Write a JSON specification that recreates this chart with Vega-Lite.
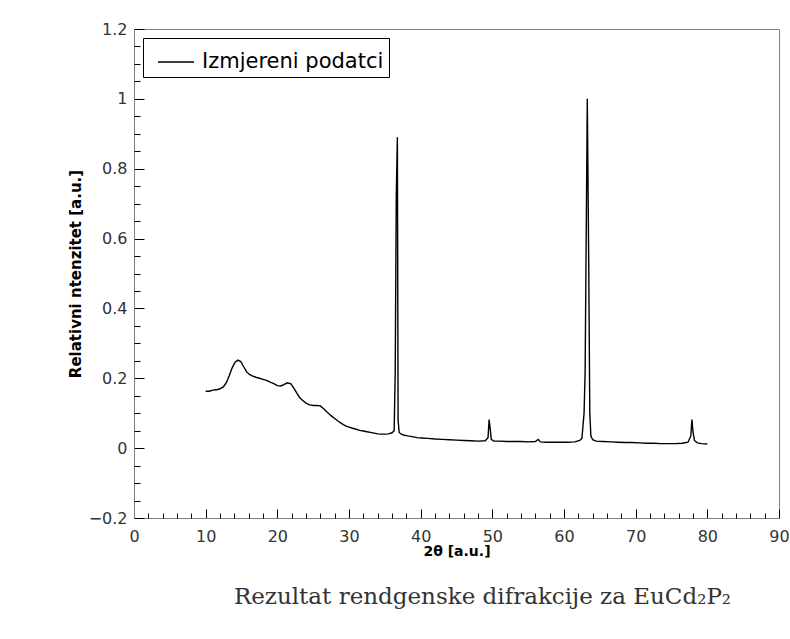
{
  "$schema": "https://vega.github.io/schema/vega-lite/v6.json",
  "width": 645,
  "height": 489,
  "autosize": {"type": "none"},
  "padding": {"left": 134, "top": 29, "right": 11, "bottom": 121},
  "background": "white",
  "config": {
    "view": {"stroke": "#808080", "strokeWidth": 1},
    "font": "DejaVu Sans"
  },
  "title": {
    "text": "Rezultat rendgenske difrakcije za EuCd₂P₂",
    "orient": "bottom",
    "anchor": "middle",
    "font": "DejaVu Serif",
    "fontSize": 23,
    "fontWeight": "normal",
    "color": "#333333",
    "offset": 28,
    "dx": 26
  },
  "data": {
    "values": [
      {"x": 10.0, "y": 0.163, "s": "Izmjereni podatci"},
      {"x": 10.5, "y": 0.163, "s": "Izmjereni podatci"},
      {"x": 11.0, "y": 0.166, "s": "Izmjereni podatci"},
      {"x": 11.5, "y": 0.167, "s": "Izmjereni podatci"},
      {"x": 12.0, "y": 0.170, "s": "Izmjereni podatci"},
      {"x": 12.5, "y": 0.176, "s": "Izmjereni podatci"},
      {"x": 12.9, "y": 0.188, "s": "Izmjereni podatci"},
      {"x": 13.3, "y": 0.208, "s": "Izmjereni podatci"},
      {"x": 13.7, "y": 0.230, "s": "Izmjereni podatci"},
      {"x": 14.1, "y": 0.246, "s": "Izmjereni podatci"},
      {"x": 14.5, "y": 0.252, "s": "Izmjereni podatci"},
      {"x": 14.9, "y": 0.248, "s": "Izmjereni podatci"},
      {"x": 15.3, "y": 0.233, "s": "Izmjereni podatci"},
      {"x": 15.7, "y": 0.219, "s": "Izmjereni podatci"},
      {"x": 16.1, "y": 0.211, "s": "Izmjereni podatci"},
      {"x": 16.5, "y": 0.207, "s": "Izmjereni podatci"},
      {"x": 17.0, "y": 0.203, "s": "Izmjereni podatci"},
      {"x": 17.5, "y": 0.200, "s": "Izmjereni podatci"},
      {"x": 18.0, "y": 0.197, "s": "Izmjereni podatci"},
      {"x": 18.5, "y": 0.194, "s": "Izmjereni podatci"},
      {"x": 19.0, "y": 0.189, "s": "Izmjereni podatci"},
      {"x": 19.5, "y": 0.185, "s": "Izmjereni podatci"},
      {"x": 20.0, "y": 0.179, "s": "Izmjereni podatci"},
      {"x": 20.5, "y": 0.178, "s": "Izmjereni podatci"},
      {"x": 20.9, "y": 0.182, "s": "Izmjereni podatci"},
      {"x": 21.4, "y": 0.187, "s": "Izmjereni podatci"},
      {"x": 21.9, "y": 0.184, "s": "Izmjereni podatci"},
      {"x": 22.3, "y": 0.172, "s": "Izmjereni podatci"},
      {"x": 22.7, "y": 0.158, "s": "Izmjereni podatci"},
      {"x": 23.1, "y": 0.145, "s": "Izmjereni podatci"},
      {"x": 23.5, "y": 0.137, "s": "Izmjereni podatci"},
      {"x": 24.0, "y": 0.129, "s": "Izmjereni podatci"},
      {"x": 24.5, "y": 0.124, "s": "Izmjereni podatci"},
      {"x": 25.0, "y": 0.122, "s": "Izmjereni podatci"},
      {"x": 25.5, "y": 0.122, "s": "Izmjereni podatci"},
      {"x": 26.0, "y": 0.121, "s": "Izmjereni podatci"},
      {"x": 26.5, "y": 0.112, "s": "Izmjereni podatci"},
      {"x": 27.0, "y": 0.102, "s": "Izmjereni podatci"},
      {"x": 27.5, "y": 0.093, "s": "Izmjereni podatci"},
      {"x": 28.0, "y": 0.085, "s": "Izmjereni podatci"},
      {"x": 28.5, "y": 0.077, "s": "Izmjereni podatci"},
      {"x": 29.0, "y": 0.070, "s": "Izmjereni podatci"},
      {"x": 29.5, "y": 0.064, "s": "Izmjereni podatci"},
      {"x": 30.0, "y": 0.060, "s": "Izmjereni podatci"},
      {"x": 30.5, "y": 0.057, "s": "Izmjereni podatci"},
      {"x": 31.0, "y": 0.054, "s": "Izmjereni podatci"},
      {"x": 31.5, "y": 0.051, "s": "Izmjereni podatci"},
      {"x": 32.0, "y": 0.049, "s": "Izmjereni podatci"},
      {"x": 32.5, "y": 0.047, "s": "Izmjereni podatci"},
      {"x": 33.0, "y": 0.045, "s": "Izmjereni podatci"},
      {"x": 33.5, "y": 0.043, "s": "Izmjereni podatci"},
      {"x": 34.0, "y": 0.041, "s": "Izmjereni podatci"},
      {"x": 34.5, "y": 0.040, "s": "Izmjereni podatci"},
      {"x": 35.0, "y": 0.040, "s": "Izmjereni podatci"},
      {"x": 35.5, "y": 0.041, "s": "Izmjereni podatci"},
      {"x": 36.0, "y": 0.044, "s": "Izmjereni podatci"},
      {"x": 36.3, "y": 0.050, "s": "Izmjereni podatci"},
      {"x": 36.45, "y": 0.22, "s": "Izmjereni podatci"},
      {"x": 36.6, "y": 0.73, "s": "Izmjereni podatci"},
      {"x": 36.75, "y": 0.89, "s": "Izmjereni podatci"},
      {"x": 36.85, "y": 0.08, "s": "Izmjereni podatci"},
      {"x": 37.0, "y": 0.045, "s": "Izmjereni podatci"},
      {"x": 37.3, "y": 0.040, "s": "Izmjereni podatci"},
      {"x": 37.7, "y": 0.037, "s": "Izmjereni podatci"},
      {"x": 38.2, "y": 0.035, "s": "Izmjereni podatci"},
      {"x": 38.8, "y": 0.033, "s": "Izmjereni podatci"},
      {"x": 39.5, "y": 0.030, "s": "Izmjereni podatci"},
      {"x": 40.2, "y": 0.029, "s": "Izmjereni podatci"},
      {"x": 41.0, "y": 0.028, "s": "Izmjereni podatci"},
      {"x": 42.0, "y": 0.026, "s": "Izmjereni podatci"},
      {"x": 43.0, "y": 0.025, "s": "Izmjereni podatci"},
      {"x": 44.0, "y": 0.024, "s": "Izmjereni podatci"},
      {"x": 45.0, "y": 0.023, "s": "Izmjereni podatci"},
      {"x": 46.0, "y": 0.022, "s": "Izmjereni podatci"},
      {"x": 47.0, "y": 0.021, "s": "Izmjereni podatci"},
      {"x": 48.0, "y": 0.020, "s": "Izmjereni podatci"},
      {"x": 49.0, "y": 0.021, "s": "Izmjereni podatci"},
      {"x": 49.4, "y": 0.030, "s": "Izmjereni podatci"},
      {"x": 49.55, "y": 0.082, "s": "Izmjereni podatci"},
      {"x": 49.7, "y": 0.056, "s": "Izmjereni podatci"},
      {"x": 49.85, "y": 0.025, "s": "Izmjereni podatci"},
      {"x": 50.2, "y": 0.020, "s": "Izmjereni podatci"},
      {"x": 51.0, "y": 0.020, "s": "Izmjereni podatci"},
      {"x": 52.0, "y": 0.019, "s": "Izmjereni podatci"},
      {"x": 53.0, "y": 0.019, "s": "Izmjereni podatci"},
      {"x": 54.0, "y": 0.019, "s": "Izmjereni podatci"},
      {"x": 55.0, "y": 0.018, "s": "Izmjereni podatci"},
      {"x": 56.0, "y": 0.019, "s": "Izmjereni podatci"},
      {"x": 56.4, "y": 0.025, "s": "Izmjereni podatci"},
      {"x": 56.7, "y": 0.018, "s": "Izmjereni podatci"},
      {"x": 57.5, "y": 0.017, "s": "Izmjereni podatci"},
      {"x": 58.5, "y": 0.017, "s": "Izmjereni podatci"},
      {"x": 59.5, "y": 0.017, "s": "Izmjereni podatci"},
      {"x": 60.5, "y": 0.017, "s": "Izmjereni podatci"},
      {"x": 61.5, "y": 0.018, "s": "Izmjereni podatci"},
      {"x": 62.2, "y": 0.022, "s": "Izmjereni podatci"},
      {"x": 62.5, "y": 0.028, "s": "Izmjereni podatci"},
      {"x": 62.8, "y": 0.10, "s": "Izmjereni podatci"},
      {"x": 62.95, "y": 0.22, "s": "Izmjereni podatci"},
      {"x": 63.25, "y": 1.0, "s": "Izmjereni podatci"},
      {"x": 63.45, "y": 0.53, "s": "Izmjereni podatci"},
      {"x": 63.6, "y": 0.10, "s": "Izmjereni podatci"},
      {"x": 63.75, "y": 0.035, "s": "Izmjereni podatci"},
      {"x": 64.0, "y": 0.024, "s": "Izmjereni podatci"},
      {"x": 64.5, "y": 0.020, "s": "Izmjereni podatci"},
      {"x": 65.5, "y": 0.019, "s": "Izmjereni podatci"},
      {"x": 66.5, "y": 0.018, "s": "Izmjereni podatci"},
      {"x": 67.5, "y": 0.017, "s": "Izmjereni podatci"},
      {"x": 68.5, "y": 0.016, "s": "Izmjereni podatci"},
      {"x": 69.5, "y": 0.016, "s": "Izmjereni podatci"},
      {"x": 70.5, "y": 0.015, "s": "Izmjereni podatci"},
      {"x": 71.5, "y": 0.014, "s": "Izmjereni podatci"},
      {"x": 72.5, "y": 0.014, "s": "Izmjereni podatci"},
      {"x": 73.5, "y": 0.013, "s": "Izmjereni podatci"},
      {"x": 74.5, "y": 0.013, "s": "Izmjereni podatci"},
      {"x": 75.5, "y": 0.013, "s": "Izmjereni podatci"},
      {"x": 76.5, "y": 0.014, "s": "Izmjereni podatci"},
      {"x": 77.3, "y": 0.017, "s": "Izmjereni podatci"},
      {"x": 77.7, "y": 0.035, "s": "Izmjereni podatci"},
      {"x": 77.85, "y": 0.082, "s": "Izmjereni podatci"},
      {"x": 78.0, "y": 0.047, "s": "Izmjereni podatci"},
      {"x": 78.2, "y": 0.022, "s": "Izmjereni podatci"},
      {"x": 78.6, "y": 0.015, "s": "Izmjereni podatci"},
      {"x": 79.2, "y": 0.013, "s": "Izmjereni podatci"},
      {"x": 80.0, "y": 0.012, "s": "Izmjereni podatci"}
    ]
  },
  "resolve": {"axis": {"x": "independent", "y": "independent"}},
  "layer": [
    {
      "mark": {"type": "line", "strokeWidth": 1.4, "interpolate": "linear"},
      "encoding": {
        "x": {
          "field": "x", "type": "quantitative",
          "scale": {"domain": [0, 90], "nice": false, "zero": false},
          "axis": {
            "orient": "bottom",
            "values": [0, 10, 20, 30, 40, 50, 60, 70, 80, 90],
            "format": "d",
            "tickSize": -9, "tickColor": "#000000", "tickWidth": 1,
            "domainColor": "#808080",
            "grid": false,
            "labelFont": "DejaVu Sans", "labelFontSize": 16, "labelColor": "#333333",
            "labelPadding": 19, "labelFlush": false, "labelOverlap": false,
            "title": "2θ [a.u.]",
            "titleFont": "DejaVu Sans", "titleFontSize": 14, "titleFontWeight": "bold", "titleColor": "#000000",
            "titlePadding": 0
          }
        },
        "y": {
          "field": "y", "type": "quantitative",
          "scale": {"domain": [-0.2, 1.2], "nice": false, "zero": false},
          "axis": {
            "orient": "left",
            "values": [-0.2, 0, 0.2, 0.4, 0.6, 0.8, 1, 1.2],
            "format": "~g",
            "tickSize": -10, "tickColor": "#000000", "tickWidth": 1,
            "domainColor": "#808080",
            "grid": false,
            "labelFont": "DejaVu Sans", "labelFontSize": 16, "labelColor": "#333333",
            "labelPadding": 17, "labelFlush": false, "labelOverlap": false,
            "title": "Relativni ntenzitet [a.u.]",
            "titleFont": "DejaVu Sans", "titleFontSize": 15, "titleFontWeight": "bold", "titleColor": "#000000",
            "titlePadding": 5
          }
        },
        "color": {
          "field": "s", "type": "nominal",
          "scale": {"range": ["#000000"]},
          "legend": {
            "title": null,
            "orient": "top-left",
            "offset": 9,
            "strokeColor": "#000000",
            "fillColor": "#ffffff",
            "padding": 5,
            "symbolType": "stroke",
            "symbolSize": 1300,
            "symbolOffset": 9,
            "symbolStrokeWidth": 1.5,
            "symbolStrokeColor": "#000000",
            "labelFont": "DejaVu Sans",
            "labelFontSize": 21,
            "labelLimit": 400,
            "labelExpr": "datum.label + '  '",
            "labelColor": "#000000",
            "labelOffset": 7
          }
        }
      }
    },
    {
      "mark": {"type": "line", "strokeOpacity": 0},
      "encoding": {
        "x": {
          "field": "x", "type": "quantitative",
          "axis": {
            "orient": "bottom",
            "values": [2,4,6,8,12,14,16,18,22,24,26,28,32,34,36,38,42,44,46,48,52,54,56,58,62,64,66,68,72,74,76,78,82,84,86,88],
            "tickSize": -5, "tickColor": "#000000", "tickWidth": 1,
            "labels": false, "domain": false, "grid": false, "title": null
          }
        },
        "y": {
          "field": "y", "type": "quantitative",
          "axis": {
            "orient": "left",
            "values": [-0.15,-0.1,-0.05,0.05,0.1,0.15,0.25,0.3,0.35,0.45,0.5,0.55,0.65,0.7,0.75,0.85,0.9,0.95,1.05,1.1,1.15],
            "tickSize": -6, "tickColor": "#000000", "tickWidth": 1,
            "labels": false, "domain": false, "grid": false, "title": null
          }
        }
      }
    }
  ]
}
